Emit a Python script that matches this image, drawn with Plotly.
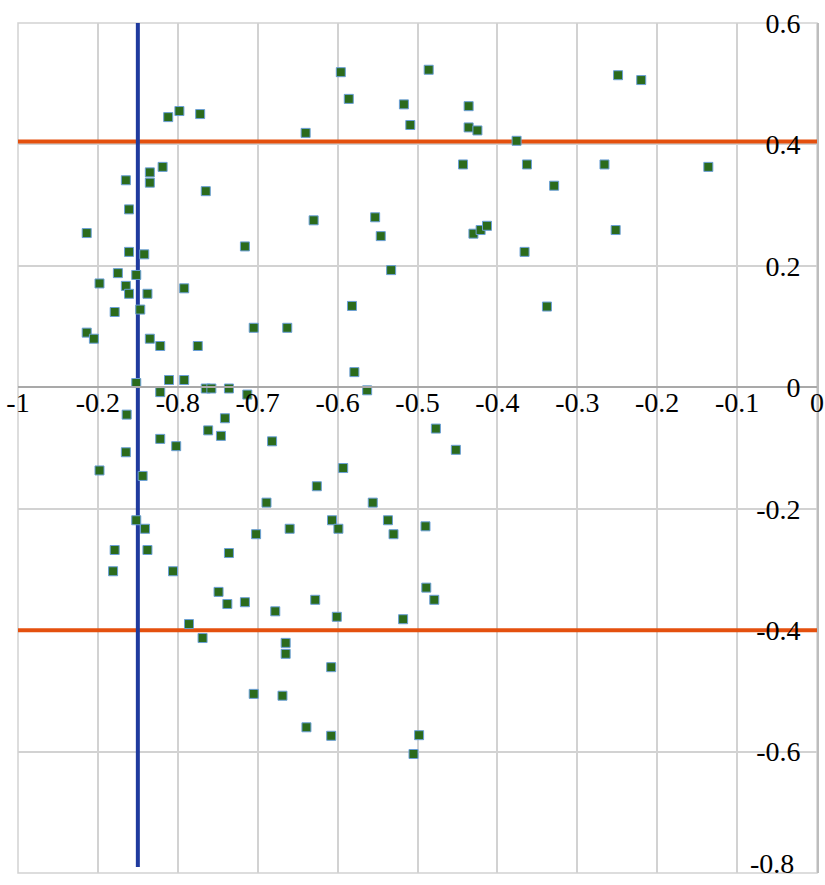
import plotly.graph_objects as go

# ---- data ----
pts_x = [
    -0.812, -0.798, -0.772, -0.819, -0.835, -0.835, -0.865, -0.765, -0.861, -0.914,
    -0.716, -0.861, -0.842, -0.875, -0.852, -0.898, -0.865, -0.792, -0.861, -0.838,
    -0.879, -0.847, -0.914, -0.905, -0.705, -0.835, -0.822, -0.775, -0.852, -0.811,
    -0.792, -0.765, -0.758, -0.736, -0.822, -0.713, -0.741, -0.762, -0.746, -0.822,
    -0.802, -0.682, -0.865, -0.898, -0.844, -0.689, -0.852, -0.841, -0.702, -0.879,
    -0.838, -0.736, -0.881, -0.806, -0.749, -0.716, -0.864,
    -0.640, -0.596, -0.586, -0.486, -0.517, -0.509, -0.436, -0.436, -0.425, -0.376,
    -0.443, -0.363, -0.630, -0.553, -0.546, -0.533, -0.430, -0.421, -0.413, -0.366,
    -0.329, -0.249, -0.220, -0.266, -0.136, -0.252, -0.582, -0.663, -0.338, -0.579,
    -0.563, -0.477, -0.452, -0.593, -0.626, -0.556, -0.607, -0.599, -0.537, -0.530,
    -0.490, -0.660, -0.489, -0.479, -0.628, -0.738, -0.678, -0.601, -0.518, -0.786,
    -0.769, -0.665, -0.665, -0.608, -0.705, -0.669, -0.639, -0.608, -0.498, -0.505,
]
pts_y = [
    0.445, 0.455, 0.450, 0.363, 0.354, 0.337, 0.341, 0.323, 0.293, 0.254,
    0.232, 0.223, 0.219, 0.188, 0.185, 0.171, 0.167, 0.163, 0.154, 0.154,
    0.124, 0.128, 0.090, 0.080, 0.098, 0.080, 0.068, 0.068, 0.007, 0.012,
    0.012, -0.002, -0.002, -0.002, -0.008, -0.012, -0.051, -0.071, -0.080, -0.085,
    -0.097, -0.089, -0.107, -0.137, -0.146, -0.190, -0.219, -0.233, -0.242, -0.268,
    -0.268, -0.273, -0.303, -0.303, -0.337, -0.354, -0.045,
    0.419, 0.519, 0.475, 0.523, 0.466, 0.432, 0.463, 0.428, 0.423, 0.406,
    0.367, 0.367, 0.275, 0.280, 0.249, 0.193, 0.253, 0.259, 0.266, 0.223,
    0.332, 0.514, 0.506, 0.367, 0.363, 0.259, 0.134, 0.098, 0.133, 0.025,
    -0.005, -0.068, -0.103, -0.133, -0.163, -0.190, -0.219, -0.233, -0.219, -0.242,
    -0.229, -0.233, -0.330, -0.350, -0.350, -0.357, -0.369, -0.378, -0.382, -0.390,
    -0.413, -0.421, -0.439, -0.461, -0.505, -0.508, -0.560, -0.574, -0.573, -0.604,
]

v_line_x = -0.85            # blue vertical threshold
h_line_y = [0.405, -0.4]    # orange horizontal thresholds

x_tickvals = [-1, -0.9, -0.8, -0.7, -0.6, -0.5, -0.4, -0.3, -0.2, -0.1, 0]
x_ticktext = ["-1", "-0.2", "-0.8", "-0.7", "-0.6", "-0.5", "-0.4", "-0.3", "-0.2", "-0.1", "0"]
y_tickvals = [-0.6, -0.4, -0.2, 0, 0.2, 0.4, 0.6]
y_ticktext = ["-0.6", "-0.4", "-0.2", "0", "0.2", "0.4", "0.6"]
y_bottom_label = "-0.8"

X_RANGE = [-1, 0]
Y_RANGE = [-0.8, 0.6]

GRID = "#d2d2d2"
FONT = dict(family="Liberation Serif", size=28, color="black")

fig = go.Figure()

for hy in h_line_y:
    fig.add_trace(go.Scatter(
        x=[X_RANGE[0], X_RANGE[1]], y=[hy, hy], mode="lines",
        line=dict(color="#e4500e", width=4), hoverinfo="skip", showlegend=False))

fig.add_trace(go.Scatter(
    x=[v_line_x, v_line_x], y=[Y_RANGE[1], -0.79], mode="lines",
    line=dict(color="#1f3a9e", width=4), hoverinfo="skip", showlegend=False))

fig.add_trace(go.Scatter(
    x=pts_x, y=pts_y, mode="markers",
    marker=dict(symbol="square", size=9, color="#2b6b1c",
                line=dict(color="#6a9fd6", width=1)),
    showlegend=False))

zero_pos = (0 - Y_RANGE[0]) / (Y_RANGE[1] - Y_RANGE[0])

fig.update_layout(
    width=825, height=885,
    margin=dict(l=18, r=8, t=23, b=12),
    paper_bgcolor="white", plot_bgcolor="white",
    font=FONT,
    xaxis=dict(
        range=X_RANGE, tickvals=x_tickvals, ticktext=x_ticktext,
        showgrid=True, gridcolor=GRID, gridwidth=1.5, zeroline=False,
        showline=True, linecolor="#a9a9a9", linewidth=2,
        anchor="free", position=zero_pos, ticks="", automargin=False,
        ticklabelstandoff=-10, ticklabeloverflow="allow",
        tickfont=FONT,
    ),
    yaxis=dict(
        range=Y_RANGE, tickvals=y_tickvals, ticktext=y_ticktext,
        side="right", ticklabelposition="inside", ticklabeloverflow="allow",
        ticks="", ticklabelstandoff=19,
        showgrid=True, gridcolor=GRID, gridwidth=1.5, zeroline=False,
        showline=True, linecolor="#bdbdbd", linewidth=2, automargin=False,
        tickfont=FONT,
    ),
    shapes=[dict(type="rect", xref="paper", yref="paper", x0=0, y0=0, x1=1, y1=1,
                 line=dict(color=GRID, width=1.5), layer="below")],
    annotations=[dict(x=X_RANGE[1], y=Y_RANGE[0], xref="x", yref="y",
                      text=y_bottom_label, showarrow=False, xanchor="right",
                      yanchor="middle", xshift=-21, yshift=10, font=FONT)],
)

fig.write_html(
    "out.html",
    config={"displayModeBar": False},
    post_script="document.body.style.margin='0';document.body.style.overflow='hidden';",
)
